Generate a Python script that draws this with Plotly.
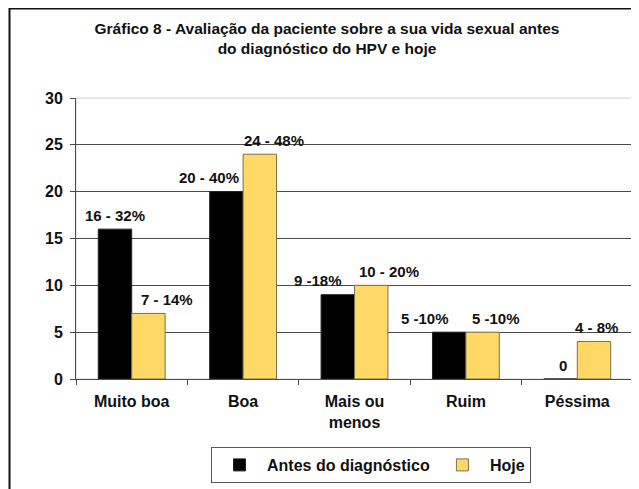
import plotly.graph_objects as go

categories = ["Muito boa", "Boa", "Mais ou<br>menos", "Ruim", "Péssima"]
antes = [16, 20, 9, 5, 0]
hoje = [7, 24, 10, 5, 4]
antes_labels = ["16 - 32%", "20 - 40%", "9 -18%", "5 -10%", "0"]
hoje_labels = ["7 - 14%", "24 - 48%", "10 - 20%", "5 -10%", "4 - 8%"]
y_ticks = [0, 5, 10, 15, 20, 25, 30]

FONT = "Liberation Sans, Arial, sans-serif"
YELLOW = "#FFD865"
GRID = "#4a4a4a"
TXT = "#111111"

# the page body adds an 8px margin, so the figure is drawn 8px smaller
OFF = 8
W, H = 639 - OFF, 489 - OFF
L, R, T, B = 76 - OFF, 6, 98 - OFF, 110

# horizontal nudge (px, from category centre) of the value labels, as placed in the original
DX_ANTES = [-17, -34, -37, -41, -14]
DX_HOJE = [35, 31, 34, 30, 19]


def px_x(p):
    return (p - OFF - L) / (W - L - R)


def px_y(p):
    return (H - B - (p - OFF)) / (H - T - B)


fig = go.Figure()
fig.add_trace(
    go.Bar(
        x=categories,
        y=antes,
        name="Antes do diagnóstico",
        marker=dict(color="#000000", line=dict(color="#222222", width=1)),
    )
)
fig.add_trace(
    go.Bar(
        x=categories,
        y=hoje,
        name="Hoje",
        marker=dict(color=YELLOW, line=dict(color="#7a7050", width=1)),
    )
)

for vals, labels, dxs in ((antes, antes_labels, DX_ANTES), (hoje, hoje_labels, DX_HOJE)):
    for cat, v, lab, dx in zip(categories, vals, labels, dxs):
        fig.add_annotation(
            x=cat, y=v, text=lab, showarrow=False,
            xanchor="center", yanchor="middle",
            xshift=dx, yshift=14,
            font=dict(family=FONT, size=15, color=TXT, weight="bold"),
        )

# outer frame (only left/top edges visible in the original)
fig.add_shape(
    type="rect", xref="paper", yref="paper",
    x0=px_x(9.5), x1=px_x(680), y0=px_y(8.5), y1=px_y(560),
    line=dict(color="#111111", width=2), layer="below",
)
# plot area border
fig.add_shape(
    type="rect", xref="paper", yref="paper",
    x0=0, x1=1, y0=0, y1=1,
    line=dict(color="#c8d0d0", width=1), layer="below",
)

fig.update_layout(
    width=W,
    height=H,
    paper_bgcolor="white",
    plot_bgcolor="white",
    font=dict(family=FONT, size=16, color=TXT, weight="bold"),
    margin=dict(l=L, r=R, t=T, b=B, autoexpand=False),
    barmode="group",
    bargap=0.4,
    bargroupgap=0,
    title=dict(
        text="Gráfico 8 - Avaliação da paciente sobre a sua vida sexual antes<br>do diagnóstico do HPV e hoje",
        x=(327 - OFF) / W,
        xanchor="center",
        y=1 - 26 / H,
        yanchor="top",
        font=dict(family=FONT, size=15.5, color=TXT, weight="bold"),
    ),
    legend=dict(
        orientation="h",
        x=px_x(371),
        xanchor="center",
        y=px_y(447),
        yanchor="top",
        bordercolor="#555555",
        borderwidth=1,
        font=dict(family=FONT, size=16, color=TXT, weight="bold"),
        itemwidth=45,
        traceorder="normal",
    ),
    showlegend=True,
)
fig.update_xaxes(
    showline=True,
    linecolor=GRID,
    linewidth=1,
    ticks="outside",
    tickson="boundaries",
    ticklen=5,
    tickcolor=GRID,
    showgrid=False,
    ticklabelstandoff=8,
    tickfont=dict(family=FONT, size=16, weight="bold"),
)
fig.update_yaxes(
    range=[0, 30],
    tickvals=y_ticks,
    showline=True,
    linecolor=GRID,
    linewidth=1,
    ticks="outside",
    ticklen=5,
    tickcolor=GRID,
    showgrid=True,
    gridcolor=GRID,
    gridwidth=1,
    zeroline=False,
    ticklabelstandoff=4,
    tickfont=dict(family=FONT, size=16, weight="bold"),
)

fig.write_html("out.html")
